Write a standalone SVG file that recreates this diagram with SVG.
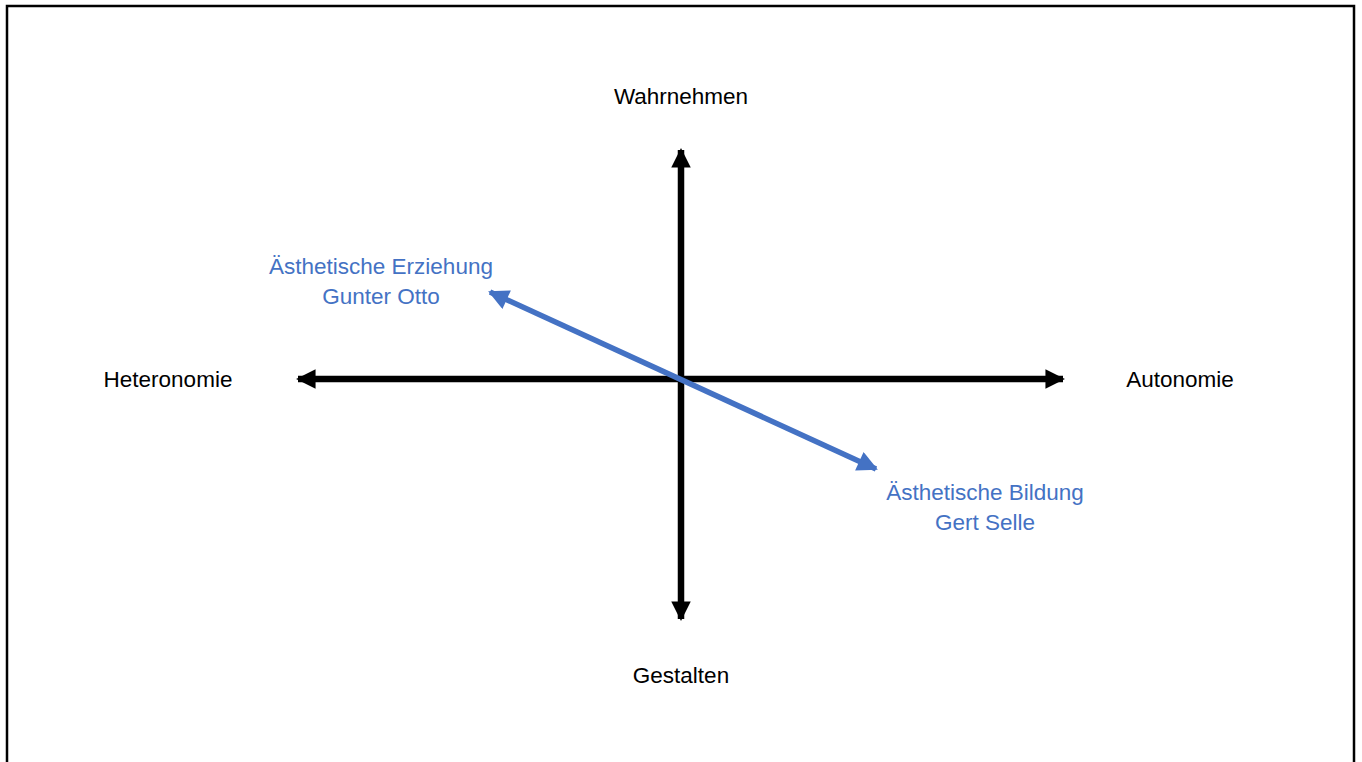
<svg xmlns="http://www.w3.org/2000/svg" width="1362" height="762" viewBox="0 0 1362 762">
<style>
.lbl{font-family:"Liberation Sans",Arial,sans-serif;font-size:22.5px;text-anchor:middle;fill:#000}
.blue{fill:#4472C4}
.axis{stroke:#000;stroke-width:6.5;fill:none}
.diag{stroke:#4472C4;stroke-width:5.5;fill:none}
</style>
<defs>
<marker id="ah" viewBox="0 0 10 10" refX="9" refY="5" markerWidth="3.1" markerHeight="3" orient="auto-start-reverse" markerUnits="strokeWidth">
<path d="M0,0 L10,5 L0,10 Z" fill="#000"/>
</marker>
<marker id="ahb" viewBox="0 0 10 10" refX="9" refY="5" markerWidth="4" markerHeight="3.7" orient="auto-start-reverse" markerUnits="strokeWidth">
<path d="M0,0 L10,5 L0,10 Z" fill="#4472C4"/>
</marker>
</defs>
<rect x="7" y="6" width="1347" height="800" fill="#fff" stroke="#000" stroke-width="2.5"/>
<g id="connectors">
<line class="axis" x1="681" y1="150" x2="681" y2="619" marker-start="url(#ah)" marker-end="url(#ah)"/>
<line class="axis" x1="298" y1="379" x2="1063" y2="379" marker-start="url(#ah)" marker-end="url(#ah)"/>
<line class="diag" x1="490" y1="292" x2="876" y2="469" marker-start="url(#ahb)" marker-end="url(#ahb)"/>
</g>
<g id="wahrnehmen"><text class="lbl" x="681" y="104">Wahrnehmen</text></g>
<g id="gestalten"><text class="lbl" x="681" y="683">Gestalten</text></g>
<g id="heteronomie"><text class="lbl" x="168" y="387">Heteronomie</text></g>
<g id="autonomie"><text class="lbl" x="1180" y="387">Autonomie</text></g>
<g id="erziehung"><text class="lbl blue" x="381" y="274">Ästhetische Erziehung</text><text class="lbl blue" x="381" y="304">Gunter Otto</text></g>
<g id="bildung"><text class="lbl blue" x="985" y="500">Ästhetische Bildung</text><text class="lbl blue" x="985" y="530">Gert Selle</text></g>
</svg>
